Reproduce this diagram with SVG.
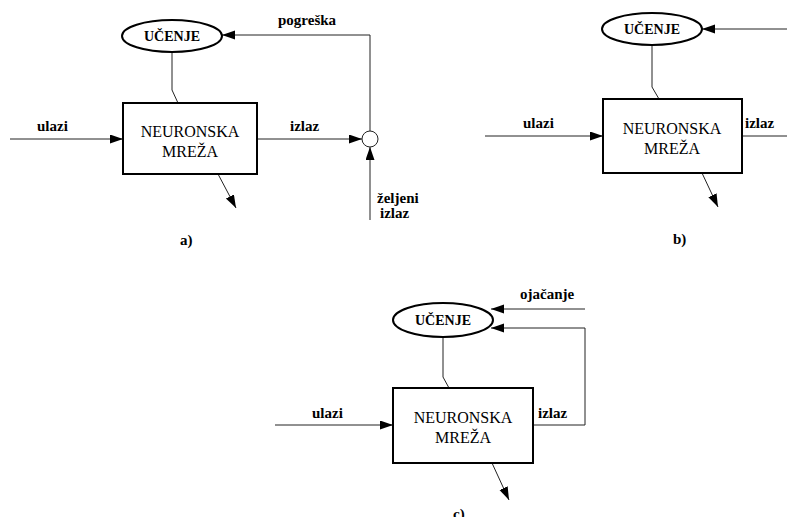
<svg xmlns="http://www.w3.org/2000/svg" width="787" height="517" viewBox="0 0 787 517" font-family="'Liberation Serif', 'DejaVu Serif', serif">
<style>
.ln{fill:none;stroke:#222;stroke-width:1}
.box{fill:#fff;stroke:#000;stroke-width:2}
.ell{fill:#fff;stroke:#000;stroke-width:2}
.lbl{font-family:'Liberation Serif', serif;font-weight:bold;font-size:15px;fill:#000}
.nn{font-family:'Liberation Serif', serif;font-size:16px;text-anchor:middle;fill:#000}
.uc{font-family:'Liberation Serif', serif;font-weight:bold;font-size:14px;text-anchor:middle;fill:#000}
</style>
<defs>
<marker id="ah" markerUnits="userSpaceOnUse" markerWidth="14" markerHeight="10" refX="13" refY="4.5" orient="auto">
<path d="M0,0 L13,4.5 L0,9 Z" fill="#000"/>
</marker>
</defs>
<rect width="787" height="517" fill="#fff"/>
<g id="connectors">
<polyline class="ln" points="172,52 172,90 178,103"/>
<line class="ln" x1="10" y1="139" x2="123" y2="139" marker-end="url(#ah)"/>
<line class="ln" x1="257" y1="139" x2="362" y2="139" marker-end="url(#ah)"/>
<polyline class="ln" points="370,131 370,35 222,35" marker-end="url(#ah)"/>
<line class="ln" x1="370" y1="220" x2="370" y2="147" marker-end="url(#ah)"/>
<line class="ln" x1="218" y1="174" x2="236" y2="208" marker-end="url(#ah)"/>
<polyline class="ln" points="652,45 652,87 659,99"/>
<line class="ln" x1="485" y1="136" x2="603" y2="136" marker-end="url(#ah)"/>
<line class="ln" x1="742" y1="136" x2="787" y2="136"/>
<line class="ln" x1="787" y1="29" x2="702" y2="29" marker-end="url(#ah)"/>
<line class="ln" x1="702" y1="173" x2="718" y2="207" marker-end="url(#ah)"/>
<polyline class="ln" points="443,338 443,377 449,388"/>
<line class="ln" x1="275" y1="425" x2="393" y2="425" marker-end="url(#ah)"/>
<polyline class="ln" points="533,425 585,425 585,328 491,328" marker-end="url(#ah)"/>
<line class="ln" x1="585" y1="309" x2="491" y2="309" marker-end="url(#ah)"/>
<line class="ln" x1="492" y1="463" x2="509" y2="500" marker-end="url(#ah)"/>
</g>
<g id="a-ucenje"><ellipse class="ell" cx="172" cy="36" rx="50" ry="16"/><text class="uc" x="172" y="41">UČENJE</text></g>
<g id="a-mreza"><rect class="box" x="123" y="103" width="134" height="71"/><text class="nn" x="190" y="137">NEURONSKA</text><text class="nn" x="190" y="157">MREŽA</text></g>
<g id="a-sum"><circle cx="370" cy="139" r="8" fill="#fff" stroke="#222" stroke-width="1"/></g>
<g id="a-labels">
<text class="lbl" x="37" y="131">ulazi</text>
<text class="lbl" x="290" y="131">izlaz</text>
<text class="lbl" x="278" y="25">pogreška</text>
<text class="lbl" x="377" y="203">željeni</text>
<text class="lbl" x="380" y="218">izlaz</text>
<text class="lbl" x="180" y="245">a)</text>
</g>
<g id="b-ucenje"><ellipse class="ell" cx="652" cy="29" rx="50" ry="16"/><text class="uc" x="652" y="34">UČENJE</text></g>
<g id="b-mreza"><rect class="box" x="603" y="99" width="139" height="74"/><text class="nn" x="672" y="134">NEURONSKA</text><text class="nn" x="672" y="154">MREŽA</text></g>
<g id="b-labels">
<text class="lbl" x="523" y="128">ulazi</text>
<text class="lbl" x="745" y="128">izlaz</text>
<text class="lbl" x="673" y="244">b)</text>
</g>
<g id="c-ucenje"><ellipse class="ell" cx="443" cy="320" rx="50" ry="17"/><text class="uc" x="443" y="325">UČENJE</text></g>
<g id="c-mreza"><rect class="box" x="393" y="388" width="140" height="75"/><text class="nn" x="463" y="423">NEURONSKA</text><text class="nn" x="463" y="443">MREŽA</text></g>
<g id="c-labels">
<text class="lbl" x="312" y="418">ulazi</text>
<text class="lbl" x="538" y="418">izlaz</text>
<text class="lbl" x="520" y="299">ojačanje</text>
<text class="lbl" x="453" y="519">c)</text>
</g>
</svg>
